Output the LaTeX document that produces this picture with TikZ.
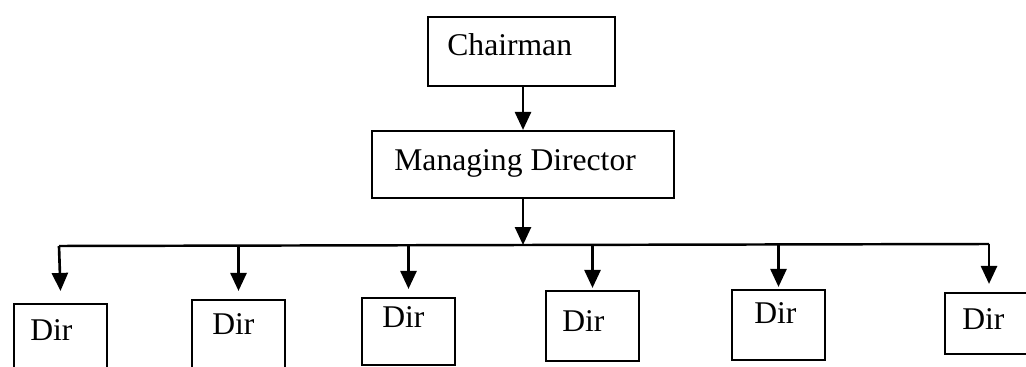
\documentclass[tikz,border=0pt]{standalone}
\usepackage{fontspec}
\setmainfont{Liberation Serif}
\usetikzlibrary{arrows.meta,fit}
\begin{document}
\begin{tikzpicture}[x=0.02cm,y=-0.02cm,
  box/.style={draw=black,line width=1.2pt,inner sep=0pt,rectangle},
  lbl/.style={inner sep=0pt,anchor=base west,font=\fontsize{18pt}{21pt}\selectfont},
  link/.style={line width=1.5pt,-{Triangle[length=0.36cm,width=0.32cm]}},
  bus/.style={line width=1.4pt}]
\useasboundingbox (0,0) rectangle (1026,367);
\fill[white] (0,0) rectangle (1026,367);
\clip (0,0) rectangle (1026,367);

% top of the chart
\node[box,fit={(428,17) (615,86)}] (chair) {};
\node[lbl] (tchair) at (447,56) {Chairman};
\node[box,fit={(372,131) (674,198)}] (md) {};
\node[lbl] (tmd) at (394,171) {Managing Director};

% directors
\node[box,fit={(14,304) (107,385)}] (d1) {};
\node[box,fit={(192,300) (285,385)}] (d2) {};
\node[box,fit={(362,298) (455,365)}] (d3) {};
\node[box,fit={(546,291) (639,361)}] (d4) {};
\node[box,fit={(732,290) (825,360)}] (d5) {};
\node[box,fit={(945,293) (1033,354)}] (d6) {};
\node[lbl] (t1) at (30,340) {Dir};
\node[lbl] (t2) at (212,335) {Dir};
\node[lbl] (t3) at (382,328) {Dir};
\node[lbl] (t4) at (562,332) {Dir};
\node[lbl] (t5) at (754,323) {Dir};
\node[lbl] (t6) at (962,330) {Dir};

% distribution bar
\coordinate (busL) at (59,246);
\coordinate (busR) at (989,244);
\coordinate (busM) at (523,245);

% connectors
\draw[link] (chair.south -| busM) -- (md.north -| busM);
\draw[link] (md.south -| busM) -- (busM);
\draw[bus] (busL) -- (busR);
\draw[link] (busL) -- ([yshift=12*0.02cm]d1.north);
\draw[link] (d2.north |- busM) -- ([yshift=8*0.02cm]d2.north);
\draw[link] (d3.north |- busM) -- ([yshift=8*0.02cm]d3.north);
\draw[link] (d4.north |- busM) -- ([yshift=2*0.02cm]d4.north);
\draw[link] (d5.north |- busM) -- ([yshift=2*0.02cm]d5.north);
\draw[link] (busR) -- ([yshift=8*0.02cm]d6.north);
\end{tikzpicture}
\end{document}
